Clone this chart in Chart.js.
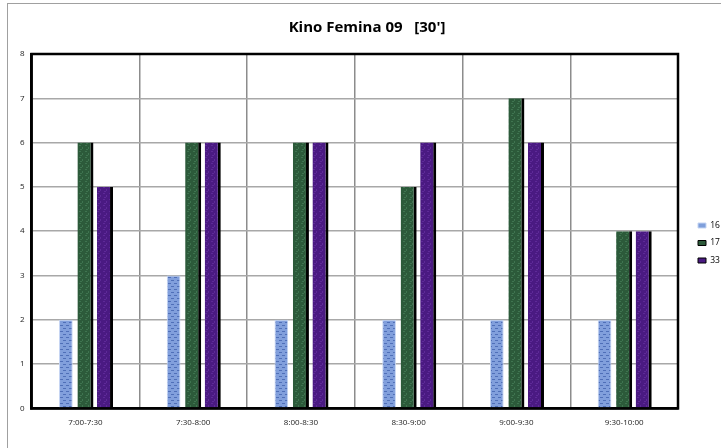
<!DOCTYPE html>
<html lang="en">
<head>
    <meta charset="UTF-8">
    <title>Kino Femina 09</title>
    <script src="https://cdn.jsdelivr.net/npm/chart.js"></script>
    <style>
        body { margin: 0; background: #fff; }
        .frame { position: absolute; left: 7px; top: 3px; width: 714px; height: 445px;
                 border-left: 1px solid #a0a0a0; border-top: 1px solid #a0a0a0; }
        canvas { position: absolute; left: 0; top: 0; }
    </style>
</head>
<body>
    <div class="frame"></div>
    <canvas id="myChart" width="721" height="448"></canvas>

<script>
// data
const categorias = ['7:00-7:30', '7:30-8:00', '8:00-8:30', '8:30-9:00', '9:00-9:30', '9:30-10:00'];
const serie16 = [2, 3, 2, 2, 2, 2];
const serie17 = [6, 6, 6, 5, 7, 4];
const serie33 = [5, 6, 6, 6, 6, 4];
const nomes = ['16', '17', '33'];

// small tiles to mimic the textured fills
function textura(base, marca, tipo) {
    const c = document.createElement('canvas');
    c.width = 6; c.height = 6;
    const g = c.getContext('2d');
    g.fillStyle = base;
    g.fillRect(0, 0, 6, 6);
    g.fillStyle = marca;
    if (tipo === 'riscos') {
        g.fillRect(0, 1, 3, 1);
        g.fillRect(3, 4, 3, 1);
    } else {
        g.fillRect(1, 1, 2, 1);
        g.fillRect(4, 3, 1, 2);
        g.fillRect(2, 5, 2, 1);
    }
    return g.createPattern(c, 'repeat');
}

const moldura = {
    id: 'moldura',
    afterDraw(chart) {
        const a = chart.chartArea;
        const ctx = chart.ctx;
        ctx.save();
        ctx.strokeStyle = '#000';
        ctx.lineWidth = 2.5;
        ctx.strokeRect(a.left, a.top, a.right - a.left, a.bottom - a.top);
        ctx.restore();
    }
};

function gerarGrafico() {
    const ctx = document.getElementById('myChart').getContext('2d');
    const grafico = new Chart(ctx, {
        type: 'bar',
        data: {
            labels: categorias,
            datasets: [{
                label: nomes[0],
                data: serie16,
                backgroundColor: textura('#819fdc', '#4f6fb8', 'riscos'),
                borderColor: '#c5d5f3',
                borderWidth: 1,
                barPercentage: 0.7,
                categoryPercentage: 0.545
            }, {
                label: nomes[1],
                data: serie17,
                backgroundColor: textura('#2c5a3a', '#3f7450', 'manchas'),
                borderColor: '#000',
                borderWidth: { left: 0, right: 3, top: 0, bottom: 0 },
                borderSkipped: false,
                barPercentage: 0.82,
                categoryPercentage: 0.545
            }, {
                label: nomes[2],
                data: serie33,
                backgroundColor: textura('#4a1a82', '#5e2a98', 'manchas'),
                borderColor: '#000',
                borderWidth: { left: 0, right: 3, top: 0, bottom: 0 },
                borderSkipped: false,
                barPercentage: 0.82,
                categoryPercentage: 0.545
            }]
        },
        options: {
            responsive: false,
            animation: false,
            layout: { padding: { left: 13, right: 0, top: 4, bottom: 10 } },
            plugins: {
                title: {
                    display: true,
                    text: "Kino Femina 09   [30']",
                    color: '#000',
                    font: { family: 'Open Sans', size: 15, weight: 'bold' },
                    padding: { top: 15, bottom: 17 }
                },
                legend: {
                    position: 'right',
                    labels: {
                        boxWidth: 8,
                        boxHeight: 5,
                        padding: 9,
                        color: '#000',
                        font: { family: 'Open Sans', size: 8.5 },
                        generateLabels(chart) {
                            const cores = ['#7f9fdb', '#2c5a3a', '#4a1a82'];
                            return chart.data.datasets.map((d, i) => ({
                                text: d.label,
                                fillStyle: cores[i],
                                strokeStyle: i === 0 ? '#c5d5f3' : '#000',
                                lineWidth: 1,
                                datasetIndex: i
                            }));
                        }
                    }
                },
                tooltip: { enabled: false }
            },
            scales: {
                x: {
                    grid: { color: '#8c8c8c', lineWidth: 1.5, drawTicks: false, offset: true },
                    border: { color: '#000', width: 2.5 },
                    ticks: { color: '#222', font: { family: 'Open Sans', size: 8 }, padding: 10, maxRotation: 0 }
                },
                y: {
                    min: 0,
                    max: 8,
                    grid: { color: '#a8a8a8', lineWidth: 1.5, drawTicks: false },
                    border: { color: '#000', width: 2.5 },
                    ticks: { stepSize: 1, color: '#222', font: { family: 'Open Sans', size: 8 }, padding: 7 }
                }
            }
        },
        plugins: [moldura]
    });

    // legend: fixed narrow column, items nudged to sit like the original
    const legenda = grafico.legend;
    const fitOrig = legenda.fit;
    legenda.fit = function () {
        fitOrig.call(this);
        this.width = 43;
    };
    const drawOrig = legenda.draw;
    legenda.draw = function () {
        this.ctx.save();
        this.ctx.translate(11, 22);
        drawOrig.call(this);
        this.ctx.restore();
    };
    grafico.update();
}

window.onload = function () {
    gerarGrafico();
};
</script>
</body>
</html>
